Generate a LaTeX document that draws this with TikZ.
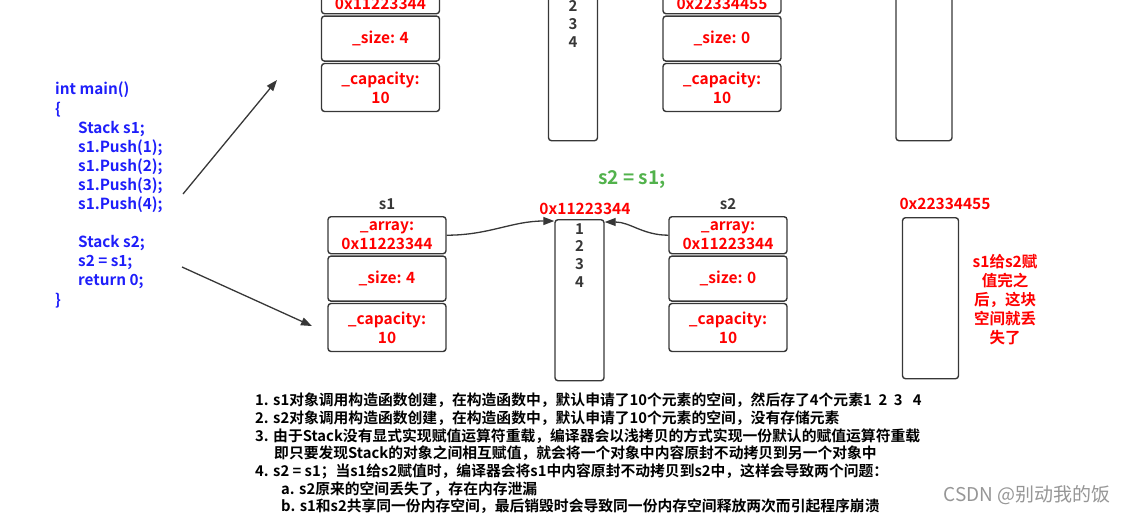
\documentclass[tikz,border=0pt]{standalone}
\usepackage{fontspec}
\setmainfont{Noto Sans CJK SC}[BoldFont={Noto Sans CJK SC Bold}]
\usetikzlibrary{positioning,arrows.meta}

\definecolor{codeblue}{RGB}{30,30,250}
\definecolor{linegray}{RGB}{55,55,55}
\definecolor{okgreen}{RGB}{82,178,76}
\definecolor{wmgray}{RGB}{150,150,150}

\tikzset{
  field/.style={draw=linegray, line width=1.4pt, rounded corners=3pt,
    minimum width=118pt, inner sep=0pt, text=red, align=center,
    font=\bfseries\fontsize{15.5}{19}\selectfont},
  memcell/.style={draw=linegray, line width=1.4pt, rounded corners=3pt,
    minimum width=49pt, minimum height=161pt, inner sep=0pt},
  numtext/.style={text=linegray, align=center, inner sep=0pt,
    font=\bfseries\fontsize{15}{17.7}\selectfont},
  ptr/.style={draw=linegray, line width=1.3pt, -{Triangle[length=11pt,width=8pt]}},
}

% one Stack object: _array, _size, _capacity
\newcommand{\stackobj}[5]{%
  \node[field, minimum height=37pt, anchor=north] (#1arr) at (#2,#3) {\_array:\\#4};
  \node[field, minimum height=45pt, below=1pt of #1arr] (#1size) {\_size: #5};
  \node[field, minimum height=48pt, below=1pt of #1size] (#1cap) {\_capacity:\\10};
}

\begin{document}
\begin{tikzpicture}[x=1pt,y=-1pt]
  \useasboundingbox (0,0) rectangle (1129,515);
  \clip (0,0) rectangle (1129,515);

  % code of main()
  \node[anchor=north west, text=codeblue, align=left, inner sep=0pt,
    font=\bfseries\fontsize{15.3}{19.1}\selectfont] (code) at (55,82)
    {int main()\\
     \{\\
     \hspace*{23pt}Stack s1;\\
     \hspace*{23pt}s1.Push(1);\\
     \hspace*{23pt}s1.Push(2);\\
     \hspace*{23pt}s1.Push(3);\\
     \hspace*{23pt}s1.Push(4);\\
     \mbox{}\\
     \hspace*{23pt}Stack s2;\\
     \hspace*{23pt}s2 = s1;\\
     \hspace*{23pt}return 0;\\
     \}};

  % before the assignment (cut at the top)
  \stackobj{ts1}{380.5}{-24}{0x11223344}{4}
  \node[memcell, anchor=north] (tmem1) at (573,-21) {};
  \node[numtext, anchor=north] at ([yshift=-4pt]tmem1.north) {1\\2\\3\\4};
  \stackobj{ts2}{722}{-24}{0x22334455}{0}
  \node[memcell, anchor=north, minimum width=56pt] (tmem2) at (924,-21) {};

  % s2 = s1;
  \node[text=okgreen, font=\bfseries\fontsize{19}{22}\selectfont] (assign) at (632,180) {s2 = s1;};

  % after the assignment
  \stackobj{s1}{387}{216}{0x11223344}{4}
  \node[text=linegray, font=\bfseries\fontsize{15}{17}\selectfont, above=3pt of s1arr] (s1name) {s1};
  \node[memcell, anchor=north] (mem1) at (579.5,219) {};
  \node[numtext, anchor=north] (mem1val) at ([yshift=-4pt]mem1.north) {1\\2\\3\\4};
  \node[text=red, font=\bfseries\fontsize{15.5}{17}\selectfont] (mem1addr) at (585,209) {0x11223344};

  \stackobj{s2}{728}{216}{0x11223344}{0}
  \node[text=linegray, font=\bfseries\fontsize{15}{17}\selectfont, above=3pt of s2arr] (s2name) {s2};

  \node[memcell, anchor=north, minimum width=56pt] (mem2) at (930.5,217) {};
  \node[text=red, font=\bfseries\fontsize{15.5}{17}\selectfont] (mem2addr) at (945,204) {0x22334455};
  \node[text=red, align=center, font=\bfseries\fontsize{15.5}{18.9}\selectfont] (lostnote) at (1005,299.5)
    {s1给s2赋\\值完之\\后，这块\\空间就丢\\失了};

  % pointers
  \draw[ptr] (s1arr.east) to[out=0,in=180] ([yshift=-2pt]mem1.north west);
  \draw[ptr] (s2arr.west) to[out=180,in=0] ([yshift=-3pt]mem1.north east);

  % from the code to the objects
  \coordinate (pushend) at (183,194);
  \coordinate (beforetip) at (277,80);
  \coordinate (assignend) at (182,267);
  \coordinate (aftertip) at (312,326);
  \draw[ptr] (pushend) -- (beforetip);
  \draw[ptr] (assignend) -- (aftertip);

  % explanation
  \node[anchor=north west, align=left, inner sep=0pt,
    font=\bfseries\fontsize{14.8}{17.67}\selectfont] (notes) at (255,393)
    {1. s1对象调用构造函数创建，在构造函数中，默认申请了10个元素的空间，然后存了4个元素1\ \ 2\ \ 3\ \ \ 4\\
     2. s2对象调用构造函数创建，在构造函数中，默认申请了10个元素的空间，没有存储元素\\
     3. 由于Stack没有显式实现赋值运算符重载，编译器会以浅拷贝的方式实现一份默认的赋值运算符重载\\
     \hspace*{19pt}即只要发现Stack的对象之间相互赋值，就会将一个对象中内容原封不动拷贝到另一个对象中\\
     4. s2 = s1；当s1给s2赋值时，编译器会将s1中内容原封不动拷贝到s2中，这样会导致两个问题：\\
     \hspace*{26pt}a. s2原来的空间丢失了，存在内存泄漏\\
     \hspace*{26pt}b. s1和s2共享同一份内存空间，最后销毁时会导致同一份内存空间释放两次而引起程序崩溃};

  \node[text=wmgray, font=\fontsize{19}{21}\selectfont] (wm) at (1027,495) {CSDN @别动我的饭};
\end{tikzpicture}
\end{document}
